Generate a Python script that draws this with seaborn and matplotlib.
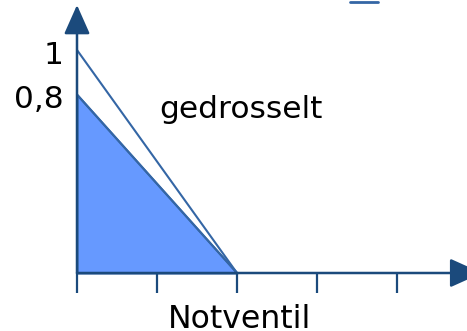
import numpy as np
import pandas as pd
import matplotlib
matplotlib.use("Agg")
import matplotlib.pyplot as plt
import seaborn as sns

# Kennlinien (Öffnungsgrad über Hub)
x_punkte = [0, 2]
y_offen = [1, 0]
y_gedrosselt = [0.8, 0]
x_ticks = [0, 1, 2, 3, 4]
y_ticks = [0.8, 1]
y_labels = ['0,8', '1']

sns.set_theme(style="white")
plt.rcParams['font.family'] = ['DejaVu Sans']

df = pd.DataFrame({'x': x_punkte, 'offen': y_offen, 'gedrosselt': y_gedrosselt})

fig = plt.figure(figsize=(4.67, 3.31), dpi=100)
ax = fig.add_axes([0, 0, 1, 1])
ax.set_xlim(-77 / 80, 390 / 80)
ax.set_ylim(-58 / 223, 273 / 223)
ax.axis('off')

achse = '#1b4a7c'
linie = '#3466a5'
flaeche = '#6699ff'

# gefüllte Fläche (gedrosselt)
ax.fill_between(df['x'], df['gedrosselt'], 0, color=flaeche, edgecolor=linie, linewidth=1.5, zorder=2)
sns.lineplot(data=df, x='x', y='offen', color=linie, linewidth=1.5, ax=ax, zorder=3)
sns.lineplot(data=df, x='x', y='gedrosselt', color=linie, linewidth=1.5, ax=ax, zorder=3)

# Achsen mit Pfeilen
ax.annotate('', xy=(405 / 80, 0), xytext=(0, 0),
            arrowprops=dict(arrowstyle='-|>,head_length=1.0,head_width=0.45', color=achse, lw=1.8,
                            shrinkA=0, shrinkB=0, mutation_scale=20), zorder=4, annotation_clip=False)
ax.annotate('', xy=(0, 268 / 223), xytext=(0, 0),
            arrowprops=dict(arrowstyle='-|>,head_length=0.9,head_width=0.4', color=achse, lw=1.8,
                            shrinkA=0, shrinkB=0, mutation_scale=20), zorder=4)

# Striche an der x-Achse
ax.vlines(x_ticks, -20 / 223, 0, color=achse, linewidth=1.6, zorder=4)

# Beschriftungen (leicht unterhalb der Punkte wie im Original)
for y, lab in zip(y_ticks, y_labels):
    ax.annotate(lab, xy=(-0.17, y), xytext=(0, -5), textcoords='offset pixels',
                ha='right', va='center', fontsize=22.5, color='black')

ax.text(1.03, (273 - 118) / 223, 'gedrosselt', ha='left', va='baseline', fontsize=22.5, color='black')
ax.text(1.13, (273 - 328) / 223, 'Notventil', ha='left', va='baseline', fontsize=22.7, color='black')

# kleine Randmarke oben
ax.plot([350 / 80 - 77 / 80, 378 / 80 - 77 / 80], [271 / 223, 271 / 223], color=linie, linewidth=2)

fig.savefig('out.png', dpi=100)
